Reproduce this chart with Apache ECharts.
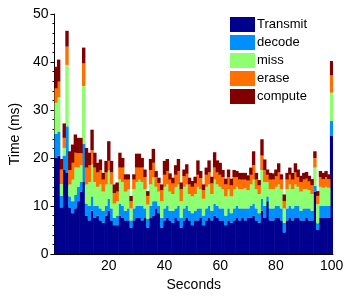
<!DOCTYPE html>
<html>
<head>
<meta charset="utf-8">
<script src="https://cdn.jsdelivr.net/npm/echarts@6/dist/echarts.min.js"></script>
<style>
  html, body { margin: 0; padding: 0; background: #fff; }
  #chart { width: 347px; height: 297px; }
</style>
</head>
<body>
<div id="chart"></div>
<script>
// seconds 1..100
const seconds = [];
for (let i = 1; i <= 100; i++) seconds.push(String(i));

const seriesNames = ['Transmit', 'decode', 'miss', 'erase', 'compute'];
// jet(5) colours
const colors = ['#00008f', '#008fff', '#8fff70', '#ff7000', '#800000'];

const transmit = [
  20, 20.5, 9.7, 17.5, 17, 9.7, 8.5, 9.5, 11, 13,
  15, 8, 7, 9, 7.5, 8, 7, 6.5, 8, 9,
  7, 6, 6, 8, 7.5, 7, 7, 5.5, 7, 7.5,
  7.5, 7, 7.5, 5.5, 7.5, 8, 9.5, 8.5, 5.5, 7,
  7.5, 7, 6.5, 7.5, 7, 5.5, 7, 7.5, 7, 6,
  7, 7, 7.5, 6, 7, 7.5, 7, 8, 7.5, 7,
  7, 6, 7, 6.5, 7, 7.5, 7, 7.5, 7, 7.5,
  7.5, 8, 7, 6.5, 9, 7.5, 11, 7, 7, 7.5,
  7.5, 7, 4.5, 7, 7.5, 7, 7.5, 7.5, 7, 7,
  7.5, 7, 7, 13, 5, 7.5, 7.5, 7.5, 7.5, 24.7
];
const decode = [
  5, 5, 2.4, 3, 9.6, 2.3, 2.5, 2.8, 3, 2,
  8, 2.5, 3, 3, 2.5, 2, 2.5, 2.5, 2, 2.5,
  2.5, 1.5, 2, 2.5, 2.5, 2, 2.5, 1.5, 2.5, 2.5,
  2.5, 3, 2, 1.8, 2.5, 3, 1.5, 1.5, 2, 2.5,
  2.5, 2, 2.5, 2, 3, 2, 2.5, 2.5, 2, 2.5,
  2, 2.5, 2, 2, 2.5, 2.5, 2, 2.5, 2.5, 2.5,
  2.5, 2, 2.5, 2, 2.5, 2.5, 2.5, 2, 2.5, 2,
  2.5, 2.5, 2.5, 2, 2.5, 2.5, 1, 2.5, 2.5, 2.5,
  2.5, 2.5, 2, 2.5, 2.5, 2.5, 2.5, 2.5, 2, 2.5,
  2, 2.5, 2, 1.2, 1.4, 2.5, 2.5, 2.5, 2.5, 3
];
const miss = [
  6.5, 7.2, 2.5, 1.6, 12.8, 2.5, 4.5, 5.8, 4, 3.5,
  12, 4, 5, 6.6, 5, 4, 5, 4, 4.5, 5.9,
  5, 3, 3, 5, 5, 4, 4, 2.5, 4, 5,
  5.5, 5, 4, 3, 4.5, 5, 3, 3, 3.5, 4.5,
  4.5, 4, 3.5, 4.5, 4.5, 3.5, 4.5, 4.5, 3.5, 3.5,
  3.5, 4.5, 4, 3.5, 4.5, 4.5, 3.5, 5, 4.5, 4.5,
  4, 4, 4, 3.5, 4, 4, 4, 4, 4.2, 3.8,
  4.5, 5, 4, 4, 6, 5, 3, 4, 4, 4,
  4.5, 4, 3, 4, 4.5, 4, 4.5, 4, 4, 4,
  4, 3.8, 3.5, 3.8, 4, 4, 3.8, 4, 3.8, 5.9
];
const erase = [
  3, 3.2, 3, 2.1, 3.8, 3, 3.5, 3, 3, 2.5,
  4.7, 3.5, 3.5, 3, 3, 3, 3, 2.5, 2.5, 2,
  2.5, 2.2, 2, 2.5, 3, 2.5, 2, 1.5, 2, 3,
  2.5, 3, 2.5, 1.8, 3, 3, 2, 1.8, 2.3, 2.5,
  2.8, 2.5, 2.2, 2.5, 2.8, 2.5, 2.2, 2.2, 2, 2,
  2.2, 2.5, 2.3, 1.8, 2.5, 2.5, 2.2, 2.5, 2.5, 2.5,
  2.5, 2.5, 2.5, 2.3, 2.5, 2, 2, 2, 1.8, 2,
  2, 3, 2, 1.8, 3, 2.5, 1.5, 2, 2, 2.2,
  2.5, 2, 1.5, 2, 2, 2, 2.5, 2, 2, 2,
  2.2, 1.8, 1.8, 2, 1.7, 2, 1.8, 2, 1.8, 3.6
];
const compute = [
  4.5, 4.6, 2.2, 3, 3.3, 3.9, 3.8, 3.8, 3.2, 3.2,
  3.3, 4.1, 2.6, 4.3, 3.1, 2, 2.2, 1.4, 2.4, 4.1,
  2.4, 1.8, 1.9, 3.1, 2, 1.1, 1.1, 1.1, 1.1, 2.9,
  2.9, 2, 1.6, 1, 2.3, 2.9, 1.3, 1.1, 1.2, 2.9,
  2.5, 1.3, 1.2, 2, 2.5, 1.4, 1.4, 2, 1.4, 1.2,
  1.4, 3, 1.5, 1.2, 1.5, 2.5, 1.4, 3.2, 2.5, 2.5,
  1.5, 1.2, 1.6, 1.4, 1.5, 1.3, 1.4, 1.4, 1.4, 1.1,
  1.5, 2.9, 1.4, 1.1, 3.4, 2.2, 1.1, 1.4, 1.3, 1.4,
  1.9, 1.1, 1.4, 1.4, 1.5, 1.4, 1.9, 1.6, 1.3, 1.4,
  1.4, 1.2, 1.3, 1.4, 1, 1.3, 1.3, 1.3, 1, 3
];
const seriesData = [transmit, decode, miss, erase, compute];

const yTicks = [0, 10, 20, 30, 40, 50];
const xTicks = ['20', '40', '60', '80', '100'];

const font = 'Liberation Sans, Arial, Helvetica, sans-serif';
const chart = echarts.init(document.getElementById('chart'));

const option = {
  animation: false,
  backgroundColor: '#fff',
  textStyle: { fontFamily: font },
  grid: { left: 52, right: 14, top: 14, bottom: 42 },
  legend: {
    orient: 'vertical',
    left: 230,
    top: 17,
    padding: 0,
    itemWidth: 25,
    itemHeight: 15,
    itemGap: 3,
    icon: 'rect',
    textStyle: { fontSize: 13, color: '#000', fontFamily: font, padding: [0, 0, 0, -3] },
    data: seriesNames
  },
  xAxis: {
    type: 'category',
    data: seconds,
    name: 'Seconds',
    nameLocation: 'middle',
    nameGap: 24,
    nameTextStyle: { fontSize: 14, color: '#000' },
    axisLine: { lineStyle: { color: '#000' } },
    axisTick: {
      alignWithLabel: true,
      length: 4,
      interval: (i, v) => xTicks.includes(v),
      lineStyle: { color: '#000' }
    },
    axisLabel: {
      interval: (i, v) => xTicks.includes(v),
      fontSize: 14,
      color: '#000',
      margin: 5
    }
  },
  yAxis: {
    type: 'value',
    min: 0,
    max: 50,
    interval: 10,
    name: 'Time (ms)',
    nameLocation: 'middle',
    nameGap: 30,
    nameTextStyle: { fontSize: 14, color: '#000' },
    axisLine: { show: true, lineStyle: { color: '#000' } },
    axisTick: { show: true, length: 4, lineStyle: { color: '#000' } },
    minorTick: { show: true, splitNumber: 5, length: 2, lineStyle: { color: '#000' } },
    splitLine: { show: false },
    axisLabel: {
      fontSize: 14,
      color: '#000',
      margin: 6,
      formatter: v => (yTicks.includes(v) ? String(v) : '')
    }
  },
  series: seriesNames.map((name, i) => ({
    name: name,
    type: 'bar',
    stack: 'total',
    // a bit wider than the 2.8px band so neighbours overlap and no seams show
    barWidth: 3.4,
    itemStyle: { color: colors[i] },
    data: seriesData[i]
  }))
};

chart.setOption(option);
</script>
</body>
</html>
